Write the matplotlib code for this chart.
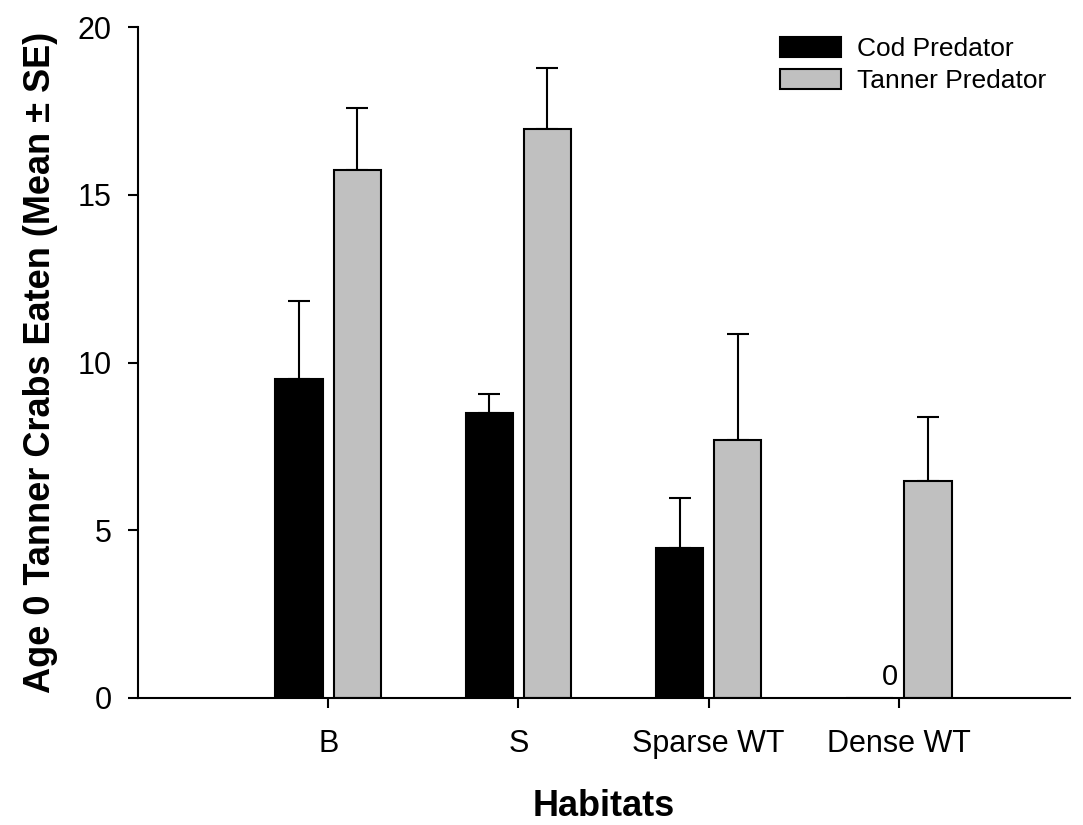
import matplotlib
matplotlib.use("Agg")
import matplotlib.pyplot as plt
import numpy as np

plt.rcParams['font.family'] = ['Liberation Sans', 'DejaVu Sans']

habitats = ["B", "S", "Sparse WT", "Dense WT"]
cod_mean = [9.5, 8.5, 4.47, 0.0]
cod_se = [2.34, 0.57, 1.5, 0.0]
tanner_mean = [15.75, 16.97, 7.7, 6.48]
tanner_se = [1.83, 1.8, 3.15, 1.9]
zero_label = "0"

fig = plt.figure(figsize=(10.83, 8.25), dpi=100)
ax = fig.add_axes([0.1274, 0.154, 0.8606, 0.813])

x = np.arange(1, len(habitats) + 1)
w = 0.25
off = 0.153

cod_x = x - off
tan_x = x + off
ax.bar(cod_x, cod_mean, width=w, color='black', edgecolor='black', linewidth=1.5,
       label='Cod Predator', zorder=2)
ax.bar(tan_x, tanner_mean, width=w, color='#c0c0c0', edgecolor='black', linewidth=1.5,
       label='Tanner Predator', zorder=2)

for xs, m, s in zip(cod_x, cod_mean, cod_se):
    if s > 0:
        ax.errorbar([xs], [m], yerr=[[0], [s]], fmt='none', ecolor='black',
                    elinewidth=1.5, capsize=8, capthick=1.5, zorder=1)
for xs, m, s in zip(tan_x, tanner_mean, tanner_se):
    if s > 0:
        ax.errorbar([xs], [m], yerr=[[0], [s]], fmt='none', ecolor='black',
                    elinewidth=1.5, capsize=8, capthick=1.5, zorder=1)

# zero label for Dense WT cod
ax.text(tan_x[3] - w / 2 - 0.03, 0.4, zero_label, ha='right', va='baseline', fontsize=21)

ax.set_xlim(0, 4.9)
ax.set_ylim(0, 20)
ax.set_xticks(x)
ax.set_xticklabels(habitats)
ax.set_yticks([0, 5, 10, 15, 20])
ax.tick_params(axis='both', labelsize=22, width=1.5, length=7, direction='out')
ax.tick_params(axis='x', pad=15)
ax.tick_params(axis='y', pad=12)
ax.spines['top'].set_visible(False)
ax.spines['right'].set_visible(False)
ax.spines['left'].set_linewidth(1.5)
ax.spines['bottom'].set_linewidth(1.5)

ax.set_ylabel("Age 0 Tanner Crabs Eaten (Mean \u00b1 SE)", fontsize=26, fontweight='bold', labelpad=14)
ax.set_xlabel("Habitats", fontsize=26, fontweight='bold', labelpad=22)

leg = ax.legend(loc='upper left', bbox_to_anchor=(780 / 1083, 1 - 37 / 825),
                bbox_transform=fig.transFigure, frameon=False, fontsize=19,
                handlelength=2.3, handleheight=0.8, handletextpad=0.6,
                labelspacing=0.28, borderpad=0, borderaxespad=0)

fig.savefig("out.png", dpi=100)
